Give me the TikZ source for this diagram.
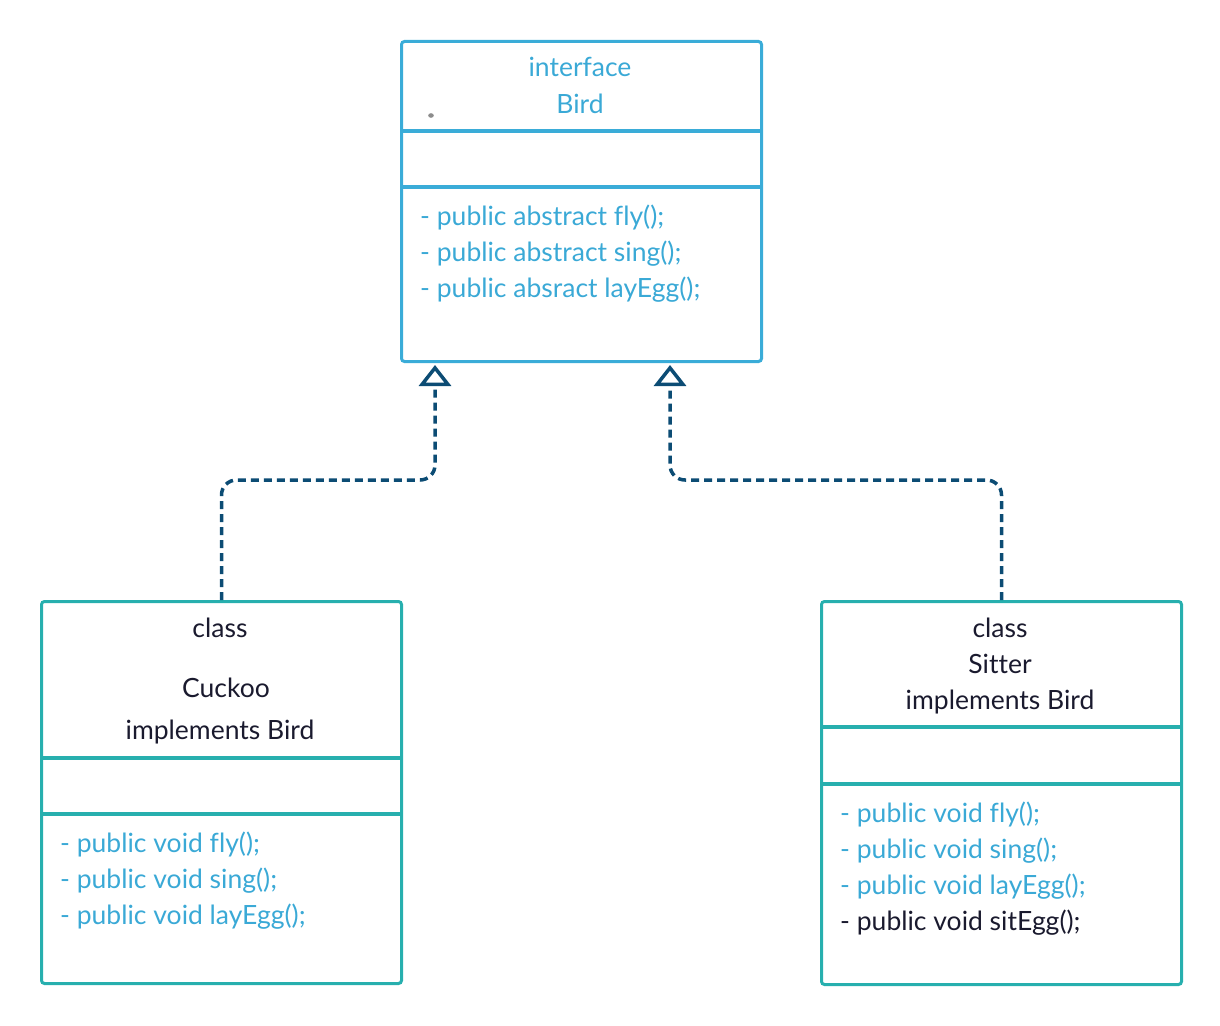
\documentclass[tikz,border=0pt]{standalone}
\usepackage{fontspec}
\setmainfont{Lato}[Ligatures=NoCommon]
\usetikzlibrary{arrows.meta,calc}
\definecolor{birdblue}{HTML}{3AACD8}
\definecolor{txtblue}{HTML}{3AA9D6}
\definecolor{teal2}{HTML}{27AFAE}
\definecolor{darkc}{HTML}{0C4C74}
\definecolor{inkc}{HTML}{1A1A2E}
\begin{document}
\begin{tikzpicture}[x=1pt,y=-1pt,
  umlbox/.style={draw,line width=3pt,rounded corners=3pt,minimum width=360pt,inner sep=0pt,anchor=north west},
  divider/.style={line width=3.3pt},
  lbl/.style={font=\fontsize{26.5}{32}\selectfont,inner sep=0pt,anchor=base},
  meth/.style={font=\fontsize{26.5}{32}\selectfont,inner sep=0pt,anchor=base west,text=txtblue},
  conn/.style={draw=darkc,line width=3.5pt,dash pattern=on 8pt off 5pt,rounded corners=15pt,
    -{Triangle[open,length=21pt,width=32pt,line join=miter]}}
]
\useasboundingbox (0,0) rectangle (1220,1025);
% boxes
\node[umlbox,draw=birdblue,minimum height=320pt] (bird) at (400,40) {};
\node[umlbox,draw=teal2,minimum height=382pt] (cuckoo) at (40,600) {};
\node[umlbox,draw=teal2,minimum height=383pt] (sitter) at (820,600) {};
% dividers
\draw[divider,birdblue] ($(bird.north west)+(0,91)$) -- ($(bird.north east)+(0,91)$);
\draw[divider,birdblue] ($(bird.north west)+(0,147)$) -- ($(bird.north east)+(0,147)$);
\draw[divider,teal2] ($(cuckoo.north west)+(0,158)$) -- ($(cuckoo.north east)+(0,158)$);
\draw[divider,teal2] ($(cuckoo.north west)+(0,214)$) -- ($(cuckoo.north east)+(0,214)$);
\draw[divider,teal2] ($(sitter.north west)+(0,127)$) -- ($(sitter.north east)+(0,127)$);
\draw[divider,teal2] ($(sitter.north west)+(0,184)$) -- ($(sitter.north east)+(0,184)$);
% Bird texts
\node[lbl,text=txtblue] (bt1) at (580,77) {interface};
\node[lbl,text=txtblue] (bt2) at (580,113) {Bird};
\fill[gray!90] (431,115.5) ellipse (2.8pt and 2.3pt);
\node[meth] (bm1) at (420,225) {- public abstract fly();};
\node[meth] (bm2) at (420,261) {- public abstract sing();};
\node[meth] (bm3) at (420,297) {- public absract layEgg();};
% Cuckoo texts
\node[lbl,text=inkc] (ct1) at (220,637) {class};
\node[lbl,text=inkc] (ct2) at (226,697) {Cuckoo};
\node[lbl,text=inkc] (ct3) at (220,739) {implements Bird};
\node[meth] (cm1) at (60,852) {- public void fly();};
\node[meth] (cm2) at (60,888) {- public void sing();};
\node[meth] (cm3) at (60,924) {- public void layEgg();};
% Sitter texts
\node[lbl,text=inkc] (st1) at (1000,637) {class};
\node[lbl,text=inkc] (st2) at (1000,673) {Sitter};
\node[lbl,text=inkc] (st3) at (1000,709) {implements Bird};
\node[meth] (sm1) at (840,822) {- public void fly();};
\node[meth] (sm2) at (840,858) {- public void sing();};
\node[meth] (sm3) at (840,894) {- public void layEgg();};
\node[meth,text=inkc] (sm4) at (840,930) {- public void sitEgg();};
% connectors
\coordinate (j1) at (435,480);
\coordinate (j2) at (670,480);
\draw[conn] (cuckoo.north) |- (j1) -- ($(j1 |- bird.south)+(0,2)$);
\draw[conn] (sitter.north) |- (j2) -- ($(j2 |- bird.south)+(0,2)$);
\end{tikzpicture}
\end{document}
